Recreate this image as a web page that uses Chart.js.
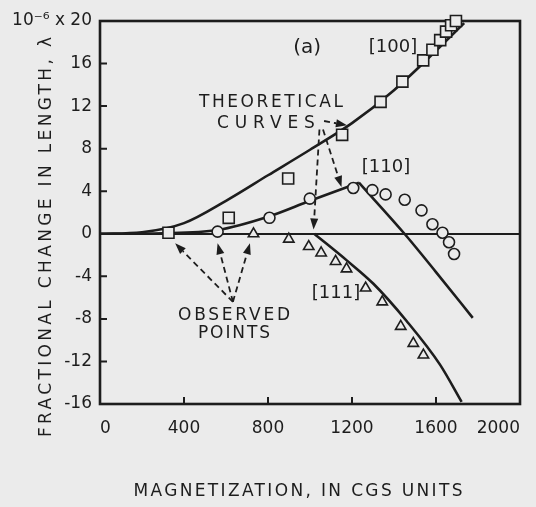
<!DOCTYPE html>
<html lang="en">
<head>
<meta charset="UTF-8">
<title>Magnetostriction</title>
<script src="https://cdn.jsdelivr.net/npm/chart.js"></script>
<style>
  html, body { margin: 0; padding: 0; background: #ebebeb; }
  #wrap { width: 536px; height: 507px; }
</style>
</head>
<body>
<div id="wrap"><canvas id="myChart"></canvas></div>
<script>
// observed points (magnetization in cgs units, lambda in 1e-6)
const obs100X = [326, 613, 896, 1153, 1336, 1440, 1539, 1583, 1620, 1648, 1672, 1695];
const obs100Y = [0.1, 1.5, 5.2, 9.3, 12.4, 14.3, 16.3, 17.3, 18.2, 19.0, 19.6, 20.0];

const obs110X = [560, 807, 999, 1206, 1297, 1360, 1451, 1531, 1583, 1631, 1662, 1686];
const obs110Y = [0.2, 1.5, 3.3, 4.3, 4.1, 3.7, 3.2, 2.2, 0.9, 0.1, -0.8, -1.9];

const obs111X = [731, 899, 994, 1053, 1122, 1174, 1265, 1344, 1432, 1492, 1540];
const obs111Y = [0.0, -0.5, -1.2, -1.8, -2.6, -3.3, -5.1, -6.4, -8.7, -10.3, -11.4];

// theoretical curves
const theo100X = [0, 200, 400, 600, 800, 1000, 1200, 1400, 1600, 1734];
const theo100Y = [0, 0.15, 1.0, 3.1, 5.5, 7.9, 10.4, 13.5, 17.2, 19.8];

const theo110UpX = [0, 300, 560, 800, 1000, 1233];
const theo110UpY = [0, 0.05, 0.35, 1.6, 3.1, 4.8];
const theo110DownX = [1233, 1450, 1600, 1775];
const theo110DownY = [4.8, 0, -3.6, -7.9];

const theo111X = [1020, 1175, 1302, 1460, 1619, 1722];
const theo111Y = [0, -2.5, -4.7, -8.2, -12.3, -15.8];

// axes
const xTicks = [0, 400, 800, 1200, 1600, 2000];
const yTicks = [-16, -12, -8, -4, 0, 4, 8, 12, 16, 20];

const ink = '#1d1d1d';
const paper = '#ebebeb';
const font = '"DejaVu Sans", sans-serif';

function pts(xs, ys) { return xs.map((x, i) => ({ x: x, y: ys[i] })); }

function curve(xs, ys) {
  return {
    data: pts(xs, ys), showLine: true, pointRadius: 0, borderColor: ink,
    borderWidth: 2.6, cubicInterpolationMode: 'monotone', order: 2, clip: false
  };
}
function marks(xs, ys, style, r) {
  return {
    data: pts(xs, ys), showLine: false, pointStyle: style, pointRadius: r,
    pointBackgroundColor: paper, pointBorderColor: ink, pointBorderWidth: 1.6,
    order: 1, clip: false
  };
}

// text labels and arrows, in data units
const notes = [
  { text: '(a)', x: 986, y: 17.5, size: 20 },
  { text: '[100]', x: 1395, y: 17.5, size: 18 },
  { text: '[110]', x: 1362, y: 6.2, size: 18 },
  { text: '[111]', x: 1124, y: -5.6, size: 18 },
  { text: 'THEORETICAL', x: 814, y: 12.3, size: 17, w: 144 },
  { text: 'CURVES', x: 790, y: 10.4, size: 17, w: 98 },
  { text: 'OBSERVED', x: 638, y: -7.7, size: 17, w: 112 },
  { text: 'POINTS', x: 638, y: -9.4, size: 17, w: 72 }
];
const arrows = [
  [633, -6.4, 358, -0.9],
  [633, -6.4, 560, -0.9],
  [633, -6.4, 714, -0.9],
  [1067, 10.6, 1176, 10.2],
  [1062, 9.8, 1150, 4.4],
  [1045, 9.8, 1017, 0.4]
];

function fitText(ctx, text, cx, cy, size, width, rotate) {
  ctx.save();
  ctx.font = size + 'px ' + font;
  ctx.fillStyle = ink;
  ctx.letterSpacing = '0px';
  let sp = 0;
  if (width) {
    sp = Math.max(0, (width - ctx.measureText(text).width) / (text.length - 1));
    ctx.letterSpacing = sp + 'px';
  }
  ctx.translate(cx, cy);
  if (rotate) ctx.rotate(-Math.PI / 2);
  ctx.textAlign = 'center';
  ctx.textBaseline = 'middle';
  ctx.fillText(text, sp / 2, 0);
  ctx.restore();
}

function arrow(ctx, x0, y0, x1, y1) {
  const a = Math.atan2(y1 - y0, x1 - x0);
  const hl = 11, hw = 4;
  ctx.save();
  ctx.strokeStyle = ink; ctx.fillStyle = ink; ctx.lineWidth = 1.8;
  ctx.setLineDash([6, 4]);
  ctx.beginPath();
  ctx.moveTo(x0, y0);
  ctx.lineTo(x1 - Math.cos(a) * hl, y1 - Math.sin(a) * hl);
  ctx.stroke();
  ctx.setLineDash([]);
  ctx.beginPath();
  ctx.moveTo(x1, y1);
  ctx.lineTo(x1 - Math.cos(a) * hl - Math.sin(a) * hw, y1 - Math.sin(a) * hl + Math.cos(a) * hw);
  ctx.lineTo(x1 - Math.cos(a) * hl + Math.sin(a) * hw, y1 - Math.sin(a) * hl - Math.cos(a) * hw);
  ctx.closePath();
  ctx.fill();
  ctx.restore();
}

const decor = {
  id: 'decor',
  beforeDraw(chart) {
    const ctx = chart.ctx;
    ctx.save();
    ctx.fillStyle = paper;
    ctx.fillRect(0, 0, chart.width, chart.height);
    ctx.restore();
  },
  beforeDatasetsDraw(chart) {
    const ctx = chart.ctx, a = chart.chartArea;
    const xs = chart.scales.x, ys = chart.scales.y;
    ctx.save();
    ctx.strokeStyle = ink;
    ctx.lineWidth = 2.6;
    ctx.strokeRect(a.left, a.top, a.right - a.left, a.bottom - a.top);
    ctx.lineWidth = 2;
    ctx.beginPath();
    yTicks.forEach(v => {
      if (v === 0 || v === yTicks[0] || v === yTicks[yTicks.length - 1]) return;
      const py = ys.getPixelForValue(v);
      ctx.moveTo(a.left, py); ctx.lineTo(a.left + 7, py);
    });
    xTicks.forEach(v => {
      if (v === xTicks[0] || v === xTicks[xTicks.length - 1]) return;
      const px = xs.getPixelForValue(v);
      ctx.moveTo(px, a.bottom); ctx.lineTo(px, a.bottom - 7);
    });
    ctx.stroke();
    ctx.restore();
  },
  afterDraw(chart) {
    const ctx = chart.ctx;
    const xs = chart.scales.x, ys = chart.scales.y;
    notes.forEach(n => fitText(ctx, n.text, xs.getPixelForValue(n.x), ys.getPixelForValue(n.y), n.size, n.w));
    arrows.forEach(r => arrow(ctx, xs.getPixelForValue(r[0]), ys.getPixelForValue(r[1]),
                                   xs.getPixelForValue(r[2]), ys.getPixelForValue(r[3])));
    fitText(ctx, 'FRACTIONAL CHANGE IN LENGTH, \u03bb', 47, 237, 17, 400, true);
    fitText(ctx, 'MAGNETIZATION, IN CGS UNITS', 298, 492, 17, 329);
  }
};

new Chart(document.getElementById('myChart'), {
  type: 'scatter',
  data: {
    datasets: [
      marks(obs100X, obs100Y, 'rect', 7.8),
      marks(obs110X, obs110Y, 'circle', 5.5),
      marks(obs111X, obs111Y, 'triangle', 6),
      curve(theo100X, theo100Y),
      curve(theo110UpX, theo110UpY),
      curve(theo110DownX, theo110DownY),
      curve(theo111X, theo111Y)
    ]
  },
  options: {
    responsive: true,
    maintainAspectRatio: false,
    animation: false,
    layout: { padding: { left: 0, right: 16, top: 21, bottom: 0 } },
    plugins: { legend: { display: false }, tooltip: { enabled: false } },
    scales: {
      x: {
        type: 'linear', min: 0, max: 2000,
        afterBuildTicks: s => { s.ticks = xTicks.map(v => ({ value: v })); },
        afterFit: s => { s.height = 103; },
        grid: { display: false },
        border: { display: false },
        ticks: {
          color: ink, font: { family: font, size: 17 }, padding: 6, align: 'inner', maxRotation: 0,
          callback: v => String(v)
        }
      },
      y: {
        type: 'linear', min: -16, max: 20,
        afterBuildTicks: s => { s.ticks = yTicks.map(v => ({ value: v })); },
        afterFit: s => { s.width = 100; },
        grid: {
          drawTicks: false,
          color: c => (c.tick && c.tick.value === 0) ? ink : 'rgba(0,0,0,0)',
          lineWidth: 2
        },
        border: { display: false },
        ticks: {
          color: ink, font: { family: font, size: 17 }, padding: 8,
          callback: v => v === 20 ? '10\u207b\u2076 x 20' : String(v)
        }
      }
    }
  },
  plugins: [decor]
});
</script>
</body>
</html>
